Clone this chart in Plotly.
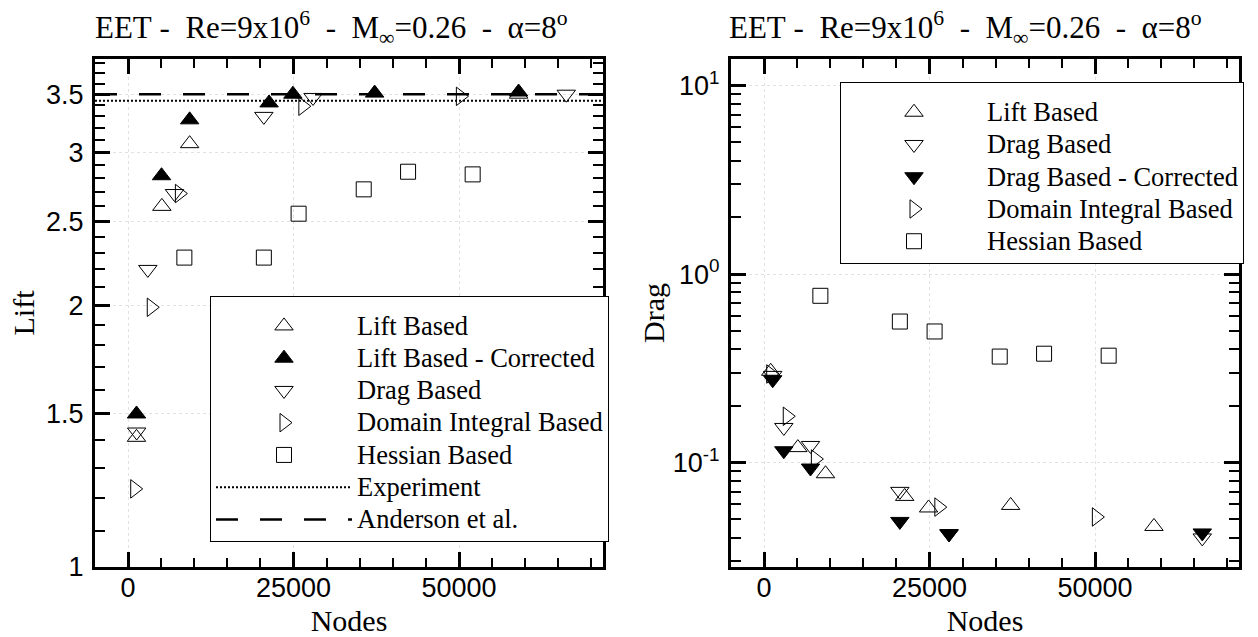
import math
import plotly.graph_objects as go

# ---------------- data ----------------
# Left panel: Lift vs Nodes
LIFT_BASED_NODES_L = [1270, 5100, 9300, 59000]
LIFT_BASED_CL = [1.41, 2.60, 3.07, 3.50]
LIFT_CORR_NODES = [1270, 5050, 9300, 21300, 24900, 37250, 59000]
LIFT_CORR_CL = [1.50, 2.82, 3.27, 3.42, 3.50, 3.51, 3.52]
DRAG_NODES = [1300, 2980, 7010, 20510, 27940, 66200]
DRAG_BASED_CL = [1.43, 2.20, 2.69, 3.30, 3.47, 3.50]
DOMAIN_NODES = [1000, 3500, 7750, 26400, 50200]
DOMAIN_CL = [1.23, 1.99, 2.69, 3.39, 3.48]
HESSIAN_NODES = [8500, 20510, 25760, 35600, 42300, 52060]
HESSIAN_CL = [2.27, 2.27, 2.55, 2.72, 2.85, 2.83]
EXPERIMENT_CL = 3.44
ANDERSON_CL = 3.50

# Right panel: Drag vs Nodes
LIFT_NODES_R = [1000, 5100, 9280, 21240, 24850, 37250, 58900]
LIFT_BASED_CD = [0.305, 0.120, 0.0872, 0.0661, 0.0574, 0.0592, 0.0458]
DRAG_BASED_CD = [0.290, 0.1535, 0.1232, 0.0703, 0.0420, 0.0398]
DRAG_CORR_CD = [0.275, 0.1155, 0.0935, 0.0487, 0.0418, 0.0423]
DOMAIN_CD = [0.295, 0.176, 0.1044, 0.058, 0.0514]
HESSIAN_CD = [0.767, 0.560, 0.496, 0.365, 0.378, 0.369]

# axes
X_RANGE = [-5000, 71750]
X_TICKS = [0, 25000, 50000]
X_MINOR = [v for v in range(-5000, 71001, 5000) if v not in X_TICKS]
LIFT_RANGE = [1.0, 3.842]
LIFT_TICKS = [1, 1.5, 2, 2.5, 3, 3.5]
LIFT_TICK_TEXT = ["1", "1.5", "2", "2.5", "3", "3.5"]
LIFT_MINOR = [round(1 + 0.1 * i, 1) for i in range(1, 29) if round(1 + 0.1 * i, 1) not in LIFT_TICKS]
DRAG_RANGE = [0.0279, 13.85]
DRAG_TICKS = [0.1, 1, 10]
DRAG_TICK_TEXT = ["10<sup>-1</sup>", "10<sup>0</sup>", "10<sup>1</sup>"]
DRAG_MINOR = [m * 10 ** e for e in (-2, -1, 0) for m in range(2, 10) if 0.0279 <= m * 10 ** e <= 13.85]

NB = "\u00a0"
TITLE = ("EET" + NB + "-" + NB * 2 + "Re=9x10<sup>6</sup>" + NB * 2 + "-" + NB * 2 +
         "M<sub>\u221e</sub>=0.26" + NB * 2 + "-" + NB * 2 + "\u03b1=8<sup>o</sup>")

SERIF = "Liberation Serif"
SANS = "Liberation Sans"
W, H = 1258, 637


def lg(name):
    # legend label drawn slightly larger than the row pitch font
    return '<span style="font-size:26.5px">' + name + "</span>"


fig = go.Figure()

def mk(symbol, size=16):
    return dict(symbol=symbol, size=size, color="black", line=dict(width=1, color="black"))

# ---- left panel traces ----
fig.add_trace(go.Scatter(x=LIFT_BASED_NODES_L, y=LIFT_BASED_CL, mode="markers", name=lg("Lift Based"),
                         marker=mk("triangle-up-open"), xaxis="x", yaxis="y", legend="legend"))
fig.add_trace(go.Scatter(x=LIFT_CORR_NODES, y=LIFT_CORR_CL, mode="markers", name=lg("Lift Based - Corrected"),
                         marker=mk("triangle-up"), xaxis="x", yaxis="y", legend="legend"))
fig.add_trace(go.Scatter(x=DRAG_NODES, y=DRAG_BASED_CL, mode="markers", name=lg("Drag Based"),
                         marker=mk("triangle-down-open"), xaxis="x", yaxis="y", legend="legend"))
fig.add_trace(go.Scatter(x=DOMAIN_NODES, y=DOMAIN_CL, mode="markers", name=lg("Domain Integral Based"),
                         marker=mk("triangle-right-open"), xaxis="x", yaxis="y", legend="legend"))
fig.add_trace(go.Scatter(x=HESSIAN_NODES, y=HESSIAN_CL, mode="markers", name=lg("Hessian Based"),
                         marker=mk("square-open", 15), xaxis="x", yaxis="y", legend="legend"))
fig.add_trace(go.Scatter(x=X_RANGE, y=[EXPERIMENT_CL] * 2, mode="lines", name=lg("Experiment"),
                         line=dict(color="black", width=2, dash="2px,2px"), xaxis="x", yaxis="y", legend="legend"))
fig.add_trace(go.Scatter(x=X_RANGE, y=[ANDERSON_CL] * 2, mode="lines", name=lg("Anderson et al."),
                         line=dict(color="black", width=2.5, dash="22px,22px"), xaxis="x", yaxis="y", legend="legend"))

# ---- right panel traces ----
fig.add_trace(go.Scatter(x=LIFT_NODES_R, y=LIFT_BASED_CD, mode="markers", name=lg("Lift Based"),
                         marker=mk("triangle-up-open"), xaxis="x2", yaxis="y2", legend="legend2"))
fig.add_trace(go.Scatter(x=DRAG_NODES, y=DRAG_BASED_CD, mode="markers", name=lg("Drag Based"),
                         marker=mk("triangle-down-open"), xaxis="x2", yaxis="y2", legend="legend2"))
fig.add_trace(go.Scatter(x=DRAG_NODES, y=DRAG_CORR_CD, mode="markers", name=lg("Drag Based - Corrected"),
                         marker=mk("triangle-down"), xaxis="x2", yaxis="y2", legend="legend2"))
fig.add_trace(go.Scatter(x=DOMAIN_NODES, y=DOMAIN_CD, mode="markers", name=lg("Domain Integral Based"),
                         marker=mk("triangle-right-open"), xaxis="x2", yaxis="y2", legend="legend2"))
fig.add_trace(go.Scatter(x=HESSIAN_NODES, y=HESSIAN_CD, mode="markers", name=lg("Hessian Based"),
                         marker=mk("square-open", 15), xaxis="x2", yaxis="y2", legend="legend2"))

tickfont = dict(family=SANS, size=27, color="black")
titlefont = dict(family=SERIF, size=30, color="black")
GRID = "#e2e2e2"

def xaxis(domain, anchor):
    return dict(domain=domain, anchor=anchor, range=X_RANGE, tickmode="array", tickvals=X_TICKS,
                ticktext=[str(v) for v in X_TICKS], tickfont=tickfont, ticks="inside", ticklen=15,
                tickwidth=3, tickcolor="black", showline=True, linewidth=3, linecolor="black",
                mirror="ticks", showgrid=True, gridcolor=GRID, griddash="dot", gridwidth=1,
                zeroline=False, ticklabelstandoff=-5,
                minor=dict(tickvals=X_MINOR, ticks="inside", ticklen=9, tickwidth=1.5,
                           tickcolor="black", showgrid=False),
                title=dict(text="Nodes", font=titlefont, standoff=11))

def yaxis(domain, anchor, rng, tv, tt, minor, title, standoff):
    return dict(domain=domain, anchor=anchor, type="log",
                range=[math.log10(rng[0]), math.log10(rng[1])], tickmode="array", tickvals=tv,
                ticktext=tt, tickfont=tickfont, ticks="inside", ticklen=15, tickwidth=3,
                tickcolor="black", showline=True, linewidth=3, linecolor="black", mirror="ticks",
                showgrid=True, gridcolor=GRID, griddash="dot", gridwidth=1, zeroline=False,
                ticklabelstandoff=3,
                minor=dict(tickvals=minor, ticks="inside", ticklen=10, tickwidth=1.5,
                           tickcolor="black", showgrid=False),
                title=dict(text=title, font=titlefont, standoff=standoff))

ydom = [(H - 567) / H, (H - 59) / H]
legend_common = dict(xref="paper", yref="paper", xanchor="left", yanchor="top", bgcolor="white",
                     bordercolor="black", borderwidth=1, itemwidth=136, tracegroupgap=0,
                     font=dict(family=SERIF, size=22.5, color="black"),
                     title=dict(text=" ", font=dict(family=SERIF, size=6)))
fig.update_layout(
    width=W, height=H, template="none", paper_bgcolor="white", plot_bgcolor="white",
    margin=dict(l=0, r=0, t=0, b=0),
    xaxis=xaxis([95 / W, 603 / W], "y"),
    yaxis=yaxis(ydom, "x", LIFT_RANGE, LIFT_TICKS, LIFT_TICK_TEXT, LIFT_MINOR, "Lift", 3),
    xaxis2=xaxis([731 / W, 1239 / W], "y2"),
    yaxis2=yaxis(ydom, "x2", DRAG_RANGE, DRAG_TICKS, DRAG_TICK_TEXT, DRAG_MINOR, "Drag", 0),
    legend=dict(x=210 / W, y=1 - 296 / H, **legend_common),
    legend2=dict(x=840 / W, y=1 - 82.3 / H, **legend_common),
    showlegend=True,
    annotations=[
        dict(text=TITLE, x=331 / W, y=1 - 28 / H, xref="paper", yref="paper", showarrow=False,
             xanchor="center", yanchor="middle", font=dict(family=SERIF, size=31, color="black")),
        dict(text=TITLE, x=966 / W, y=1 - 28 / H, xref="paper", yref="paper", showarrow=False,
             xanchor="center", yanchor="middle", font=dict(family=SERIF, size=31, color="black")),
    ],
)

fig.write_html("out.html", config={"displayModeBar": False},
               post_script="document.body.style.margin='0';document.body.style.padding='0';")
